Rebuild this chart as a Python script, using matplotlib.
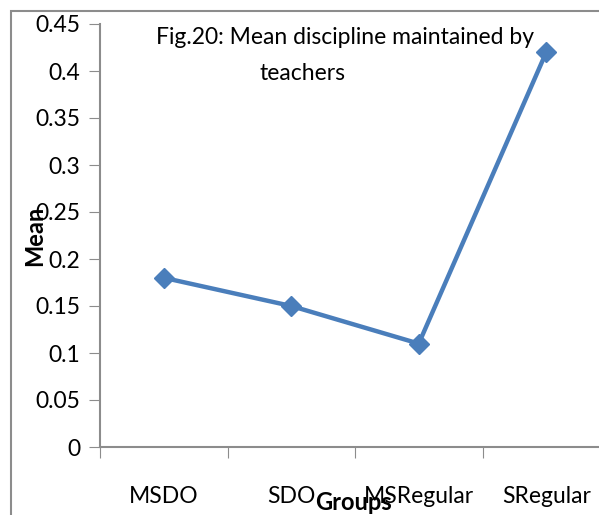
import matplotlib
matplotlib.use("Agg")
import matplotlib.pyplot as plt
from matplotlib.patches import Rectangle

# mean discipline per group
groups = ["MSDO", "SDO", "MSRegular", "SRegular"]
means = [0.18, 0.15, 0.11, 0.42]
yticks = [0, 0.05, 0.1, 0.15, 0.2, 0.25, 0.3, 0.35, 0.4, 0.45]

plt.rcParams["font.family"] = ["Lato", "DejaVu Sans"]
W, H = 599, 515
fig = plt.figure(figsize=(W / 100, H / 100), dpi=100)

# chart area border (runs off the right and bottom edge)
fig.patches.append(Rectangle((11 / W, -0.1), 1.2, 1 - 11 / H + 0.1, transform=fig.transFigure,
                             fill=False, edgecolor="#8c8c8c", lw=1.5))

ax = fig.add_axes([100 / W, 1 - 447 / H, 510 / W, 423 / H])
x = list(range(len(groups)))
ax.plot(x, means, color="#4a7ebb", lw=3.2, marker="D", markersize=10, zorder=3)

ax.set_xlim(-0.5, 3.5)
ax.set_ylim(0, 0.45)
ax.set_yticks(yticks)
ax.set_yticklabels(["0", "0.05", "0.1", "0.15", "0.2", "0.25", "0.3", "0.35", "0.4", "0.45"])
ax.set_xticks([-0.5, 0.5, 1.5, 2.5])
ax.set_xticklabels([])
ax.set_xticks(x, minor=True)
ax.set_xticklabels(groups, minor=True)
ax.tick_params(axis="x", which="minor", length=0, pad=28, labelsize=16.5)
ax.tick_params(axis="x", which="major", length=8, color="#8c8c8c", direction="out")
ax.tick_params(axis="y", length=8, color="#8c8c8c", labelsize=16.5, pad=6)

for s in ["top", "right"]:
    ax.spines[s].set_visible(False)
for s in ["left", "bottom"]:
    ax.spines[s].set_color("#8c8c8c")
    ax.spines[s].set_linewidth(1.5)

fig.text(345 / W, 1 - 38 / H, "Fig.20: Mean discipline maintained by", ha="center", va="center", fontsize=16.5)
fig.text(302 / W, 1 - 73 / H, "teachers", ha="center", va="center", fontsize=16.5)
fig.text(35 / W, 1 - 236 / H, "Mean", rotation=90, ha="center", va="center", fontsize=17, fontweight="bold")
fig.text(354 / W, 1 - 503 / H, "Groups", ha="center", va="center", fontsize=17, fontweight="bold")

fig.savefig("out.png", dpi=100)
